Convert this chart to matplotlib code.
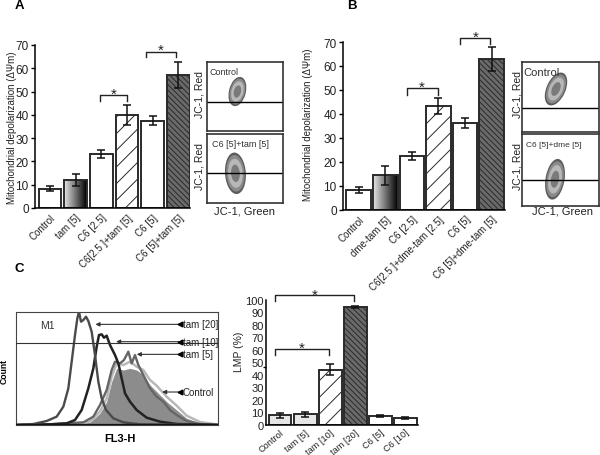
import numpy as np
import matplotlib
matplotlib.use("Agg")
import matplotlib.pyplot as plt
from matplotlib.patches import Ellipse

plt.rcParams['font.family'] = ['Liberation Sans', 'DejaVu Sans']
plt.rcParams['hatch.linewidth'] = 0.7

W, H = 600, 456

# === data ===
labels_a = ["Control", "tam [5]", "C6 [2.5]", "C6[2.5 ]+tam [5]", "C6 [5]", "C6 [5]+tam [5]"]
values_a = [8.3, 12, 23, 40, 37.5, 57]
errors_a = [1, 2.5, 1.7, 4.3, 2, 5.5]

labels_b = ["Control", "dme-tam [5]", "C6 [2.5]", "C6[2.5 ]+dme-tam [2.5]", "C6 [5]", "C6 [5]+dme-tam [5]"]
values_b = [8.3, 14.3, 22.3, 43.3, 36.3, 63]
errors_b = [1.2, 4, 1.7, 3.3, 2, 5]

labels_c = ["Control", "tam [5]", "tam [10]", "tam [20]", "C6 [5]", "C6 [10]"]
values_c = [7.5, 8.3, 44, 94, 6.8, 5.5]
errors_c = [1.8, 1.8, 4.5, 1, 0.7, 0.6]

# bracket = x0, x1, top, bottom
brackets_a = [(1.93, 3.0, 48.7, 46), (3.72, 4.89, 67.2, 64.7)]
brackets_b = [(1.8, 2.97, 50.6, 48), (3.82, 4.95, 71.6, 69)]
brackets_c = [(-0.2, 1.96, 60.8, 56), (-0.2, 2.95, 103.5, 98.7)]

# histogram
x_t20 = [48, 100, 140, 170, 190, 205, 215, 225, 232, 237, 243, 250, 258, 265, 275, 285, 295, 305, 318, 340, 370, 420, 654]
y_t20 = [0, 3, 12, 25, 55, 110, 190, 270, 320, 340, 310, 315, 325, 312, 280, 210, 130, 80, 45, 20, 8, 2, 0]
x_t10 = [48, 150, 200, 225, 245, 265, 280, 290, 297, 305, 312, 320, 330, 345, 355, 365, 375, 390, 410, 440, 480, 530, 654]
y_t10 = [0, 2, 5, 15, 45, 110, 170, 235, 270, 272, 262, 268, 240, 210, 185, 140, 95, 70, 45, 22, 10, 3, 0]
x_t5 = [48, 150, 250, 280, 300, 320, 335, 345, 360, 372, 385, 395, 405, 415, 430, 450, 470, 490, 510, 530, 560, 600, 654]
y_t5 = [0, 2, 8, 25, 60, 105, 165, 190, 185, 195, 220, 185, 210, 180, 150, 110, 85, 70, 45, 30, 12, 3, 0]
x_ctrl = [48, 200, 270, 300, 320, 335, 350, 370, 390, 410, 430, 450, 470, 500, 530, 560, 600, 654]
y_ctrl = [0, 0, 8, 35, 70, 130, 170, 165, 170, 165, 150, 120, 100, 70, 45, 20, 6, 1]
y_ctrl_edge = [0, 1, 10, 40, 80, 145, 185, 180, 190, 175, 165, 135, 118, 85, 58, 28, 9, 1]

arrow_names = ["tam [20]", "tam [10]", "tam [5]", "Control"]
arrow_tips = [278, 340, 402, 478]
arrow_rows = [302, 250, 212, 99]

# flow plots: centre x, centre y, width, height, angle, line y
blob_a_top = (31, 40, 17, 30, -14, 29)
blob_a_bot = (29, 30, 21, 42, 4, 30)
blob_b_top = (34, 43, 19, 35, -24, 24)
blob_b_bot = (33, 26, 19, 40, -10, 25)


def px_axes(left, top, right, bottom):
    return fig.add_axes([left / W, 1 - bottom / H, (right - left) / W, (bottom - top) / H])


def px_text(x, y, s, **kw):
    fig.text(x / W, 1 - y / H, s, ha='center', va='center', **kw)


def bar_panel(ax, labels, values, errors, brackets, ymax, yticks, width, xlim, style, label_size=7, label_rot=45):
    x = np.arange(len(values))
    for i in x:
        kind = style[i]
        face = {'white': 'white', 'light': '#e6e6e6', 'grad': 'none', 'hatch': 'white', 'dark': '#6a6a6a'}[kind]
        bar = ax.bar(i, values[i], width, color=face, edgecolor='#2a2a2a', linewidth=1.4, zorder=2)[0]
        if kind == 'hatch':
            bar.set_hatch('//')
        elif kind == 'dark':
            bar.set_hatch('\\\\\\\\\\\\')
        elif kind == 'grad':
            im = ax.imshow(np.linspace(0.9, 0, 64).reshape(1, -1), cmap='gray', vmin=0, vmax=1, aspect='auto',
                           extent=(i - width / 2, i + width / 2, 0, values[i]), zorder=1)
            im.set_clip_path(bar)
    ax.errorbar(x, values, yerr=errors, fmt='none', ecolor='#111111', elinewidth=1.1, capsize=2.6, capthick=1.1, zorder=3)
    for x0, x1, top, low in brackets:
        ax.plot([x0, x0, x1, x1], [low, top, top, low], color='#222222', lw=1, clip_on=False, zorder=4)
        ax.text((x0 + x1) / 2, top + ymax * 0.008, "*", ha='center', va='center', fontsize=11, color='#222222')
    ax.set_xlim(*xlim)
    ax.set_ylim(0, ymax)
    ax.set_yticks(yticks)
    ax.set_xticks(x)
    ax.set_xticklabels(labels, rotation=label_rot, ha='right', rotation_mode='anchor', fontsize=label_size, color='#222222')
    ax.tick_params(axis='x', length=0, pad=3)
    ax.tick_params(axis='y', labelsize=8.5, length=3, pad=1.5, width=1, labelcolor='#222222')
    ax.spines[['top', 'right']].set_visible(False)
    ax.spines[['left', 'bottom']].set_linewidth(1.1)


def flow_panel(ax, blob, note, note_x, note_size):
    cx, cy, w, h, ang, line_y = blob
    for scale, col in zip([1, 0.88, 0.7, 0.42], ['#5c5c5c', '#8a8a8a', '#b8b8b8', '#7a7a7a']):
        ax.add_patch(Ellipse((cx, cy), w * scale, h * scale, angle=ang, color=col, lw=0))
    ax.axhline(line_y, color='black', lw=1)
    ax.text(note_x, 60, note, fontsize=note_size, color='#333333', va='center')
    ax.set_xlim(0, 77)
    ax.set_ylim(0, 70)
    ax.set_xticks([])
    ax.set_yticks([])
    for s in ax.spines.values():
        s.set_linewidth(1.2)
        s.set_color('#333333')


fig = plt.figure(figsize=(W / 100, H / 100), dpi=100)

# panel A
style_ab = ['white', 'grad', 'white', 'hatch', 'white', 'dark']
ax_a = px_axes(35, 46, 190, 209)
bar_panel(ax_a, labels_a, values_a, errors_a, brackets_a, 70, range(0, 71, 10), 0.88, (-0.58, 5.45), style_ab)

# panel B
ax_b = px_axes(343, 43, 505, 210.7)
bar_panel(ax_b, labels_b, values_b, errors_b, brackets_b, 70, range(0, 71, 10), 0.92, (-0.59, 5.5), style_ab)

# panel C bars
style_c = ['light', 'light', 'hatch', 'dark', 'white', 'white']
ax_c = px_axes(265.7, 300.7, 418, 425.7)
bar_panel(ax_c, labels_c, values_c, errors_c, brackets_c, 100, range(0, 101, 10), 0.91, (-0.57, 5.5), style_c,
          label_size=6.6, label_rot=40)
ax_c.tick_params(axis='y', length=0, labelsize=8)
ax_c.tick_params(axis='x', pad=2)
ax_c.set_yticks([46], minor=True)
ax_c.tick_params(axis='y', which='minor', length=2, width=1)

# flow plots
flow_panel(px_axes(206.7, 62.7, 283, 132.3), blob_a_top, "Control", 3, 6.5)
flow_panel(px_axes(206.7, 134.7, 283, 204), blob_a_bot, "C6 [5]+tam [5]", 5, 6.5)
flow_panel(px_axes(522, 63, 599, 133), blob_b_top, "Control", 1, 8)
flow_panel(px_axes(522, 135, 599, 207), blob_b_bot, "C6 [5]+dme [5]", 4, 6)

# histogram
ax_h = px_axes(16, 312.7, 218, 426)
ax_h.fill_between(x_ctrl, y_ctrl, color='#8c8c8c', lw=0, zorder=1)
ax_h.plot(x_ctrl, y_ctrl_edge, color='#b8b8b8', lw=1.8, zorder=2)
ax_h.plot(x_t5, y_t5, color='#666666', lw=1.7, zorder=3)
ax_h.plot(x_t10, y_t10, color='#222222', lw=1.8, zorder=4)
ax_h.plot(x_t20, y_t20, color='#4a4a4a', lw=1.7, zorder=5)
ax_h.axhline(245, color='#333333', lw=0.8, zorder=6)
ax_h.plot([48, 654], [0, 0], color='#111111', lw=1.6, zorder=7)
for name, tip, row in zip(arrow_names, arrow_tips, arrow_rows):
    ax_h.annotate("", xy=(tip, row), xytext=(545, row),
                  arrowprops=dict(arrowstyle='-|>', color='#333333', lw=0.8, mutation_scale=6), zorder=8)
    ax_h.plot([541], [row], marker='<', ms=3.5, color='black', zorder=8)
    ax_h.text(548, row, name, fontsize=7, va='center', ha='left', color='#222222', zorder=9)
ax_h.text(143, 300, "M1", fontsize=7.5, ha='center', va='center', color='#333333')
ax_h.set_xlim(48, 654)
ax_h.set_ylim(0, 340)
ax_h.set_xticks([])
ax_h.set_yticks([])
for s in ax_h.spines.values():
    s.set_linewidth(0.8)
    s.set_color('#444444')

# text around the panels
px_text(19, 6, "A", fontsize=9.5, fontweight='bold')
px_text(352, 6, "B", fontsize=9.5, fontweight='bold')
px_text(19, 269, "C", fontsize=9.5, fontweight='bold')

ylab = "Mitochondrial depolarization (\u0394\u03a8m)"
px_text(12, 128, ylab, fontsize=7, rotation=90, color='#222222')
px_text(308, 125, ylab, fontsize=7, rotation=90, color='#222222')
px_text(239, 352, "LMP (%)", fontsize=7.5, rotation=90, color='#222222')

for x_pos in [200, 517]:
    px_text(x_pos, 95, "JC-1, Red", fontsize=7.5, rotation=90, color='#222222')
    px_text(x_pos, 167, "JC-1, Red", fontsize=7.5, rotation=90, color='#222222')
px_text(245, 212, "JC-1, Green", fontsize=8, color='#222222')
px_text(562, 212, "JC-1, Green", fontsize=8, color='#222222')

px_text(4.5, 372, "Count", fontsize=6.2, fontweight='bold', rotation=90)
px_text(120, 439, "FL3-H", fontsize=8, fontweight='bold')

fig.savefig("out.png", dpi=100)
